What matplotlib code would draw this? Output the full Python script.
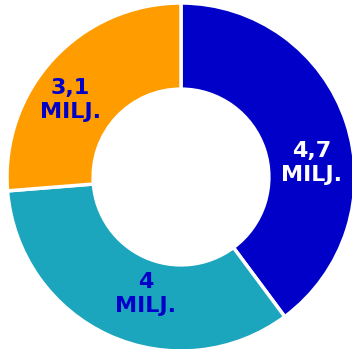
import matplotlib.pyplot as plt

# slice values (millions), clockwise from the top
values = [4.7, 4.0, 3.1]
labels = ['4,7\nMILJ.', '4\nMILJ.', '3,1\nMILJ.']
colors = ['#0000c8', '#1ca6bd', '#ff9c00']
label_colors = ['white', '#0000c8', '#0000c8']
# label anchor points (data coords, pie radius = 1)
label_pos = [(0.75, 0.08), (-0.205, -0.67), (-0.635, 0.445)]

fig = plt.figure(figsize=(3.52, 3.49), dpi=100)
ax = fig.add_axes([0, 0, 1, 1])

ax.pie(values, colors=colors, startangle=90, counterclock=False, radius=1,
       wedgeprops=dict(width=0.495, edgecolor='white', linewidth=2.5))

for txt, (x, y), c in zip(labels, label_pos, label_colors):
    ax.text(x, y, txt, ha='center', va='center', color=c, fontsize=16,
            fontweight='heavy', family='DejaVu Sans', linespacing=1.25)

ax.set_xlim(-181 / 174, (352 - 181) / 174)
ax.set_ylim(-172 / 174, 177 / 174)
ax.set_aspect('equal')
ax.axis('off')

plt.savefig('out.png', dpi=100)
plt.close()
